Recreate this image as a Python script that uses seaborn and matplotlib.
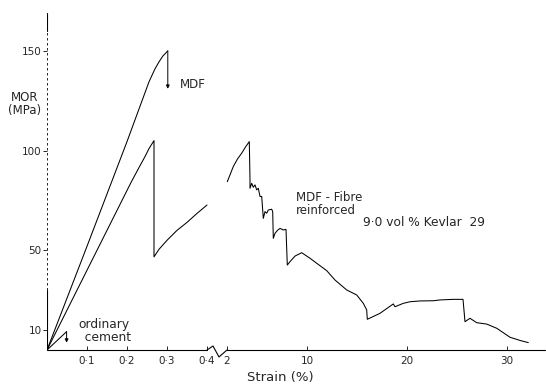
import numpy as np
import seaborn as sns
import matplotlib.pyplot as plt

# Values (strain in %, MOR in MPa)
mdf_strain = [0.0, 0.10, 0.20, 0.255, 0.27, 0.28, 0.29, 0.302]
mdf_mor = [0.0, 52.0, 104.5, 134.5, 141.0, 144.5, 147.5, 150.0]
mdf_fail = [150.0, 131.0]

fibre_left_strain = [0.0, 0.10, 0.1625, 0.21, 0.23, 0.245, 0.255, 0.2675, 0.2675,
                     0.28, 0.30, 0.325, 0.35, 0.375, 0.40]
fibre_left_mor = [0.0, 40.0, 65.0, 84.0, 91.5, 97.0, 101.0, 105.0, 46.7,
                  50.5, 55.0, 60.0, 64.0, 68.5, 72.7]

fibre_right_strain = [2.03, 2.63, 3.05, 3.47, 3.85, 4.23, 4.3, 4.3, 4.47, 4.63, 4.8, 4.97,
                      5.13, 5.3, 5.47, 5.63, 5.8, 5.97, 6.13, 6.47, 6.57, 6.63, 6.8,
                      7.03, 7.3, 7.63, 7.9, 8.03, 8.3, 8.8, 9.47, 10.3, 10.97, 11.97,
                      12.8, 13.97, 14.97, 15.63, 15.97, 16.03, 17.3, 18.63, 18.8, 19.63,
                      20.3, 21.3, 22.63, 23.3, 24.63, 25.6, 25.8, 26.3, 26.97, 27.97,
                      28.97, 30.3, 31.3, 32.13]
fibre_right_mor = [84.4, 92.0, 95.8, 98.7, 101.8, 104.5, 85.3, 81.1, 83.6, 81.6, 82.8, 80.3,
                   81.1, 77.0, 77.0, 66.0, 69.4, 68.6, 70.2, 70.6, 69.4, 56.0, 58.5,
                   59.9, 61.0, 60.2, 60.5, 42.6, 44.3, 47.1, 48.8, 46.0, 43.5, 39.8,
                   35.1, 30.1, 27.6, 23.4, 20.1, 15.4, 18.4, 23.1, 21.7, 23.4,
                   24.2, 24.6, 24.7, 25.1, 25.4, 25.4, 14.2, 15.9, 13.7, 13.0,
                   10.9, 6.4, 4.8, 3.7]

cement_strain = [0.0, 0.049]
cement_mor = [0.0, 9.2]
cement_fail = [9.2, 3.7]

x_ticks = [0.1, 0.2, 0.3, 0.4, 2, 10, 20, 30]
x_labels = ["0·1", "0·2", "0·3", "0·4", "2", "10", "20", "30"]
y_ticks = [10, 50, 100, 150]

# broken strain axis: 0-0.4 stretched, 2-34 compressed
brk_in = [-10, 0, 0.4, 2, 100]
brk_out = [-4000, 0, 160, 180, 1160]


def fwd(x):
    return np.interp(x, brk_in, brk_out)


def inv(p):
    return np.interp(p, brk_out, brk_in)


sns.set_style("white")
plt.rcParams["font.family"] = ["DejaVu Sans"]

fig = plt.figure(figsize=(5.46, 3.87), dpi=100)
ax = fig.add_axes([47 / 546, 37 / 387, 498 / 546, 337 / 387])
ax.set_xscale("function", functions=(fwd, inv))
ax.set_xlim(0, 33.8)
ax.set_ylim(0, 169)

lw = 0.75
sns.lineplot(x=mdf_strain, y=mdf_mor, ax=ax, color="black", lw=lw, sort=False, estimator=None)
sns.lineplot(x=fibre_left_strain, y=fibre_left_mor, ax=ax, color="black", lw=lw, sort=False, estimator=None)
sns.lineplot(x=fibre_right_strain, y=fibre_right_mor, ax=ax, color="black", lw=lw, sort=False, estimator=None)
sns.lineplot(x=cement_strain, y=cement_mor, ax=ax, color="black", lw=lw, sort=False, estimator=None)

arrow = dict(arrowstyle="-|>", color="black", lw=0.7, mutation_scale=5, shrinkA=0, shrinkB=0)
ax.annotate("", xy=(mdf_strain[-1], mdf_fail[1]), xytext=(mdf_strain[-1], mdf_fail[0]), arrowprops=arrow)
ax.annotate("", xy=(cement_strain[-1], cement_fail[1]), xytext=(cement_strain[-1], cement_fail[0]), arrowprops=arrow)

# axes drawn by hand to mimic the scanned style
for s in ax.spines.values():
    s.set_visible(False)
ax.axvline(0, 0, 30 / 169, color="black", lw=0.8)
ax.axvline(0, 30 / 169, 160 / 169, color="black", lw=0.6, ls=(0, (3, 3)))
ax.axvline(0, 160 / 169, 1, color="black", lw=0.8)
ax.plot([0, 0.4], [0, 0], color="black", lw=0.8, clip_on=False)
ax.plot([0.4, 0.88, 1.36, 2], [0, 2.0, -3.5, 0], color="black", lw=0.8, clip_on=False)
ax.plot([2, 33.8], [0, 0], color="black", lw=0.8, clip_on=False)

ax.set_xticks(x_ticks)
ax.set_xticklabels(x_labels)
ax.set_yticks(y_ticks)
ax.xaxis.set_minor_locator(plt.NullLocator())
ax.tick_params(axis="x", direction="in", length=3, width=0.7, pad=4, labelsize=7.5)
ax.tick_params(axis="y", direction="out", length=3, width=0.7, pad=1, labelsize=7.5, left=True)
ax.tick_params(axis="x", bottom=True)
ax.grid(False)

fig.text(25 / 546, 1 - 104 / 387, "MOR\n(MPa)", ha="center", va="center", fontsize=8.5, linespacing=1.05)
fig.text(280 / 546, 1 - 378 / 387, "Strain (%)", ha="center", va="center", fontsize=9.5)
fig.text(180 / 546, 1 - 85 / 387, "MDF", ha="left", va="center", fontsize=8.5)
fig.text(296 / 546, 1 - 204 / 387, "MDF - Fibre\nreinforced", ha="left", va="center", fontsize=8.5, linespacing=0.95)
fig.text(363 / 546, 1 - 222 / 387, "9·0 vol % Kevlar  29", ha="left", va="center", fontsize=8.8)
fig.text(104 / 546, 1 - 331 / 387, "ordinary\n  cement", ha="center", va="center", fontsize=8.8, linespacing=0.95)

fig.savefig("out.png", dpi=100)
